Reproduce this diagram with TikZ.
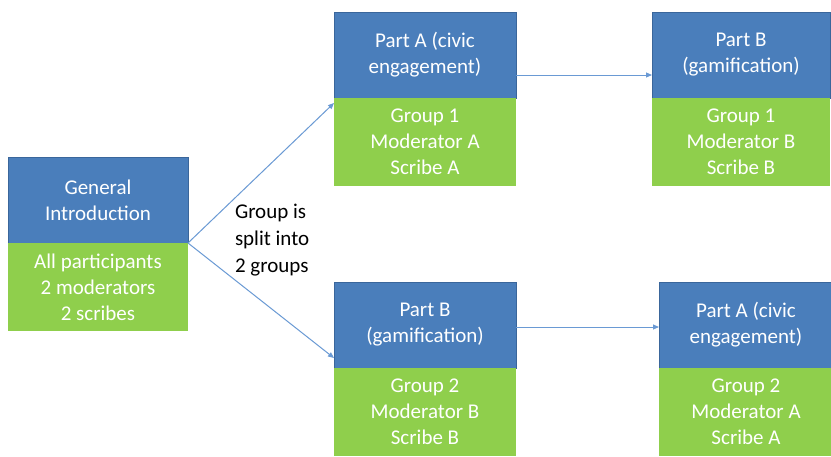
\documentclass[tikz,border=0pt]{standalone}
\usepackage{fontspec}
\setmainfont{Carlito}
\usetikzlibrary{positioning,arrows.meta}
\definecolor{hdrblue}{HTML}{4A7EBB}
\definecolor{hdredge}{HTML}{3A669B}
\definecolor{bodygreen}{HTML}{8FCF4C}
\definecolor{linkblue}{HTML}{6A9AD4}
\tikzset{
  every node/.style={inner sep=0pt, outer sep=0pt},
  header/.style={fill=hdrblue, draw=hdredge, line width=0.8pt, text=white,
    minimum height=86pt, align=center,
    font=\fontsize{21}{26}\selectfont},
  body/.style={fill=bodygreen, text=white, minimum height=88pt, align=center,
    font=\fontsize{21}{26}\selectfont},
  link/.style={draw=linkblue, line width=1pt,
    -{Triangle[length=6pt,width=5pt]}},
  note/.style={text=black, align=left, font=\fontsize{21}{27}\selectfont}
}
\begin{document}
\begin{tikzpicture}[x=1pt,y=-1pt]
\useasboundingbox[fill=white] (0,0) rectangle (831,456);
\clip (0,0) rectangle (831,456);

% opening session
\node[header, minimum width=180pt, anchor=north west] (h1) at (8,157)
  {General\\Introduction};
\node[body, minimum width=180pt, below=0pt of h1] (b1)
  {All participants\\2 moderators\\2 scribes};

% group 1
\node[header, minimum width=182pt, anchor=north west] (h2) at (334,12)
  {Part A (civic\\engagement)};
\node[body, minimum width=182pt, below=0pt of h2] (b2)
  {Group 1\\Moderator A\\Scribe A};
\node[header, minimum width=178pt, anchor=north west] (h3) at (652,12)
  {Part B\\(gamification)};
\node[body, minimum width=178pt, below=0pt of h3] (b3)
  {Group 1\\Moderator B\\Scribe B};

% group 2
\node[header, minimum width=182pt, anchor=north west] (h4) at (334,282)
  {Part B\\(gamification)};
\node[body, minimum width=182pt, below=0pt of h4] (b4)
  {Group 2\\Moderator B\\Scribe B};
\node[header, minimum width=174pt, anchor=north west] (h5) at (659,282)
  {Part A (civic\\engagement)};
\node[body, minimum width=174pt, below=0pt of h5] (b5)
  {Group 2\\Moderator A\\Scribe A};

% split label
\node[note, anchor=west] (split) at (235,240)
  {Group is\\split into\\2 groups};

% connectors
\draw[link] (b1.north east) -- ([yshift=-5pt]h2.south west);
\draw[link] (b1.north east) -- ([yshift=10pt]h4.south west);
\draw[link] ([yshift=-20pt]h2.east) -- ([yshift=-20pt]h3.west);
\draw[link] ([yshift=-2pt]h4.east) -- ([yshift=-2pt]h5.west);
\end{tikzpicture}
\end{document}
